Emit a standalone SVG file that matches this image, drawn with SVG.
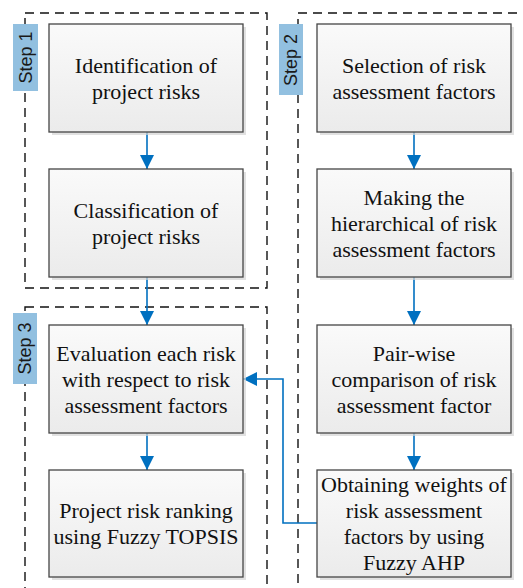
<svg xmlns="http://www.w3.org/2000/svg" width="523" height="588" viewBox="0 0 523 588">
<defs>
<linearGradient id="nodeFill" x1="0" y1="0" x2="0" y2="1">
<stop offset="0" stop-color="#FAFAFA"/>
<stop offset="1" stop-color="#EBEBEB"/>
</linearGradient>
<marker id="arrow" markerUnits="userSpaceOnUse" markerWidth="14" markerHeight="14" refX="14" refY="7" orient="auto">
<path d="M0,0 L14,7 L0,14 z" fill="#0070C0"/>
</marker>
<style>
.step{fill:none;stroke:#111;stroke-width:1.4;stroke-dasharray:9 6}
.shadow{fill:#D4D4D4;opacity:0.7}
.box{fill:url(#nodeFill);stroke:#454545;stroke-width:1.3}
.txt{font-family:"Liberation Serif","Times New Roman",serif;font-size:22px;fill:#111;text-anchor:middle}
.lab{fill:#92C0E0}
.labtxt{font-family:"Liberation Sans",Arial,sans-serif;font-size:18px;fill:#1a1a1a;text-anchor:middle;dominant-baseline:central}
.conn{fill:none;stroke:#0070C0;stroke-width:1.6;marker-end:url(#arrow)}
</style>
</defs>
<rect width="523" height="588" fill="#fff"/>
<g id="steps">
<rect class="step" x="25" y="13" width="242" height="275"/>
<rect class="step" x="298" y="13" width="240" height="600"/>
<rect class="step" x="25" y="307" width="242" height="300"/>
</g>
<g id="step1-label">
<rect class="lab" x="13" y="24" width="25" height="67"/>
<text class="labtxt" transform="translate(26,57.5) rotate(-90)">Step 1</text>
</g>
<g id="step2-label">
<rect class="lab" x="279" y="24" width="24" height="71"/>
<text class="labtxt" transform="translate(291,60) rotate(-90)">Step 2</text>
</g>
<g id="step3-label">
<rect class="lab" x="13" y="313" width="24" height="71"/>
<text class="labtxt" transform="translate(25,348.5) rotate(-90)">Step 3</text>
</g>
<g id="connectors">
<path class="conn" d="M147,132 V169"/>
<path class="conn" d="M147,277 V325"/>
<path class="conn" d="M147,433 V470"/>
<path class="conn" d="M414,132 V169"/>
<path class="conn" d="M414,277 V325"/>
<path class="conn" d="M414,433 V470"/>
<path class="conn" d="M317,523 H283 V379 H243"/>
</g>
<g id="n1">
<rect class="shadow" x="52" y="27" width="194" height="108"/>
<rect class="box" x="49" y="24" width="194" height="108"/>
<text class="txt" x="146" y="72.5">Identification of</text>
<text class="txt" x="146" y="98.5">project risks</text>
</g>
<g id="n2">
<rect class="shadow" x="52" y="172" width="194" height="108"/>
<rect class="box" x="49" y="169" width="194" height="108"/>
<text class="txt" x="146" y="217.5">Classification of</text>
<text class="txt" x="146" y="243.5">project risks</text>
</g>
<g id="n3">
<rect class="shadow" x="320" y="27" width="194" height="108"/>
<rect class="box" x="317" y="24" width="194" height="108"/>
<text class="txt" x="414" y="72.5">Selection of risk</text>
<text class="txt" x="414" y="98.5">assessment factors</text>
</g>
<g id="n4">
<rect class="shadow" x="320" y="172" width="194" height="108"/>
<rect class="box" x="317" y="169" width="194" height="108"/>
<text class="txt" x="414" y="204.5">Making the</text>
<text class="txt" x="414" y="230.5">hierarchical of risk</text>
<text class="txt" x="414" y="256.5">assessment factors</text>
</g>
<g id="n5">
<rect class="shadow" x="52" y="328" width="194" height="108"/>
<rect class="box" x="49" y="325" width="194" height="108"/>
<text class="txt" x="146" y="360.5">Evaluation each risk</text>
<text class="txt" x="146" y="386.5">with respect to risk</text>
<text class="txt" x="146" y="412.5">assessment factors</text>
</g>
<g id="n6">
<rect class="shadow" x="52" y="473" width="194" height="107"/>
<rect class="box" x="49" y="470" width="194" height="107"/>
<text class="txt" x="146" y="518">Project risk ranking</text>
<text class="txt" x="146" y="544">using Fuzzy TOPSIS</text>
</g>
<g id="n7">
<rect class="shadow" x="320" y="328" width="194" height="108"/>
<rect class="box" x="317" y="325" width="194" height="108"/>
<text class="txt" x="414" y="360.5">Pair-wise</text>
<text class="txt" x="414" y="386.5">comparison of risk</text>
<text class="txt" x="414" y="412.5">assessment factor</text>
</g>
<g id="n8">
<rect class="shadow" x="320" y="473" width="194" height="107"/>
<rect class="box" x="317" y="470" width="194" height="107"/>
<text class="txt" x="414" y="492">Obtaining weights of</text>
<text class="txt" x="414" y="518">risk assessment</text>
<text class="txt" x="414" y="544">factors by using</text>
<text class="txt" x="414" y="570">Fuzzy AHP</text>
</g>
</svg>
